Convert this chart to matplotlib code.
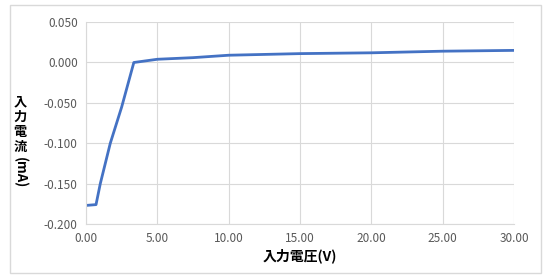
import matplotlib.pyplot as plt
from matplotlib.patches import Rectangle

plt.rcParams['font.family'] = ['Noto Sans CJK JP', 'DejaVu Sans']

# input voltage (V) vs input current (mA)
voltage = [0.0, 0.7, 1.0, 1.7, 2.5, 3.35, 5.0, 7.5, 10.0, 15.0, 20.0, 25.0, 30.0]
current = [-0.177, -0.176, -0.150, -0.100, -0.055, 0.000, 0.004, 0.006, 0.009, 0.011, 0.012, 0.014, 0.015]

xticks = [0, 5, 10, 15, 20, 25, 30]
yticks = [-0.2, -0.15, -0.1, -0.05, 0.0, 0.05]

fig = plt.figure(figsize=(5.48, 2.8), dpi=100)
ax = fig.add_axes([0.157, 0.2, 0.781, 0.721])

ax.plot(voltage, current, color='#4472C4', linewidth=2)

ax.set_xlim(0, 30)
ax.set_ylim(-0.2, 0.05)
ax.set_xticks(xticks)
ax.set_yticks(yticks)
ax.set_xticklabels([f"{v:.2f}" for v in xticks])
ax.set_yticklabels([f"{v:.3f}" for v in yticks])
ax.tick_params(length=0, labelsize=8.5, colors='#595959', pad=6)
ax.grid(True, color='#D9D9D9', linewidth=0.8)
ax.set_axisbelow(True)
for side in ['top', 'right']:
    ax.spines[side].set_visible(False)
ax.spines['left'].set_color('#D9D9D9')
ax.spines['bottom'].set_color('#D9D9D9')

ax.set_xlabel('入力電圧(V)', fontsize=10, fontweight='bold', color='#000000', labelpad=2)

# stacked y label like Excel
for i, ch in enumerate('入力電流'):
    fig.text(20 / 548, 1 - (102 + i * 14.8) / 280, ch, fontsize=9.5, fontweight='bold',
             ha='center', va='center')
fig.text(20 / 548, 1 - 173 / 280, '(mA)', fontsize=9.5, fontweight='bold',
         rotation=270, ha='center', va='center')

fig.patches.append(Rectangle((10 / 548, 7 / 280), 531 / 548, 268 / 280,
                             transform=fig.transFigure, fill=False,
                             edgecolor='#D9D9D9', linewidth=1))

fig.savefig('out.png', dpi=100)
